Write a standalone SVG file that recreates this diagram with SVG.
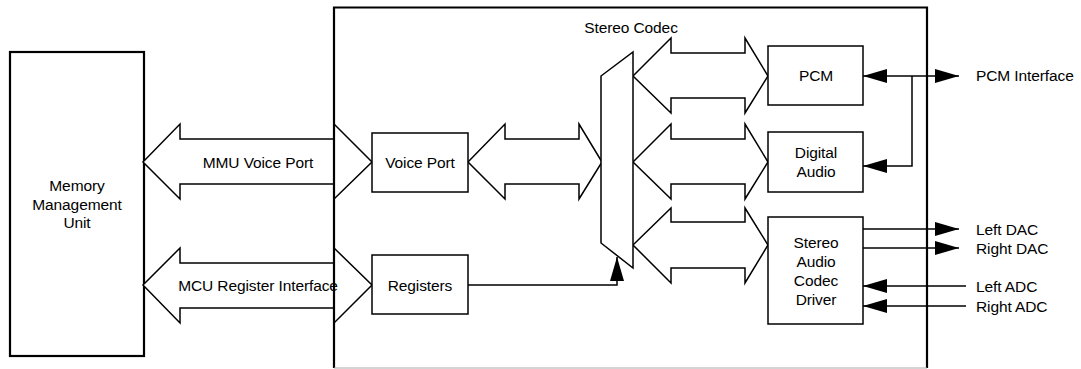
<svg xmlns="http://www.w3.org/2000/svg" width="1081" height="369" viewBox="0 0 1081 369">
<style>
.box{fill:#fff;stroke:#000;stroke-width:1.5}
.thick{fill:none;stroke:#000;stroke-width:2.2}
.bus{fill:#fff;stroke:#000;stroke-width:1.5;stroke-linejoin:miter}
.wire{fill:none;stroke:#000;stroke-width:1.5}
text{font-family:"Liberation Sans",Arial,sans-serif;font-size:15.5px;fill:#000;letter-spacing:-0.1px}
.c{text-anchor:middle}
</style>
<defs>
<marker id="ah" viewBox="0 0 24 14" markerUnits="userSpaceOnUse" markerWidth="24" markerHeight="14" refX="24" refY="7" orient="auto-start-reverse">
<path d="M0,0 L24,7 L0,14 z" fill="#000"/>
</marker>
</defs>
<rect width="1081" height="369" fill="#fff"/>

<g id="mmu">
<rect x="10" y="52" width="134" height="304" fill="#fff" stroke="#000" stroke-width="2.2"/>
<text class="c" x="77" y="190.5">Memory</text>
<text class="c" x="77" y="209.5">Management</text>
<text class="c" x="77" y="228">Unit</text>
</g>

<g id="connectors">
<polygon class="bus" points="143,162 180,124 180,139 334,139 334,124 372,162 334,199 334,184 180,184 180,199"/>
<polygon class="bus" points="143,285 180,248 180,263 334,263 334,248 372,285 334,323 334,308 180,308 180,323"/>
<polygon class="bus" points="468,162 505,124 505,139 579,139 579,124 602,162 579,199 579,184 505,184 505,199"/>
<polygon class="bus" points="633,76 671,38 671,53 745,53 745,38 768,76 745,113 745,98 671,98 671,113"/>
<polygon class="bus" points="633,162 671,124 671,139 745,139 745,124 768,162 745,199 745,184 671,184 671,199"/>
<polygon class="bus" points="633,245 671,208 671,222 745,222 745,208 768,245 745,283 745,268 671,268 671,283"/>
<path class="wire" d="M468,285 H617 V257" marker-end="url(#ah)"/>
<path class="wire" d="M863,76 H959" marker-start="url(#ah)" marker-end="url(#ah)"/>
<path class="wire" d="M912,76 V166 H863" marker-end="url(#ah)"/>
<path class="wire" d="M863,229 H959" marker-end="url(#ah)"/>
<path class="wire" d="M863,248 H959" marker-end="url(#ah)"/>
<path class="wire" d="M966,286 H863" marker-end="url(#ah)"/>
<path class="wire" d="M966,306 H863" marker-end="url(#ah)"/>
</g>

<g id="codec">
<path class="thick" d="M334,368 V7.5 H927 V368"/>
<line x1="334" y1="368" x2="927" y2="368" stroke="#aaa" stroke-width="1"/>
<text class="c" x="631" y="32.5">Stereo Codec</text>
</g>

<g id="bus-labels">
<text class="c" x="258" y="167.5">MMU Voice Port</text>
<text class="c" x="258" y="290.5">MCU Register Interface</text>
</g>

<g id="voiceport">
<rect class="box" x="372" y="133" width="96" height="59"/>
<text class="c" x="420" y="167.5">Voice Port</text>
</g>

<g id="registers">
<rect class="box" x="372" y="255" width="96" height="59"/>
<text class="c" x="420" y="290.5">Registers</text>
</g>

<g id="mux">
<polygon class="bus" points="601,76 633,52 633,268 601,243"/>
</g>

<g id="pcm">
<rect class="box" x="768" y="46" width="95" height="59"/>
<text class="c" x="816" y="80.5">PCM</text>
</g>

<g id="digital-audio">
<rect class="box" x="768" y="132" width="95" height="60"/>
<text class="c" x="816" y="157.5">Digital</text>
<text class="c" x="816" y="176.5">Audio</text>
</g>

<g id="driver">
<rect class="box" x="768" y="217" width="95" height="107"/>
<text class="c" x="816" y="247.5">Stereo</text>
<text class="c" x="816" y="266.5">Audio</text>
<text class="c" x="816" y="285.5">Codec</text>
<text class="c" x="816" y="304.5">Driver</text>
</g>

<g id="io-labels">
<text x="976" y="81">PCM Interface</text>
<text x="976" y="234.5">Left DAC</text>
<text x="976" y="253.5">Right DAC</text>
<text x="976" y="291.5">Left ADC</text>
<text x="976" y="311.5">Right ADC</text>
</g>
</svg>
